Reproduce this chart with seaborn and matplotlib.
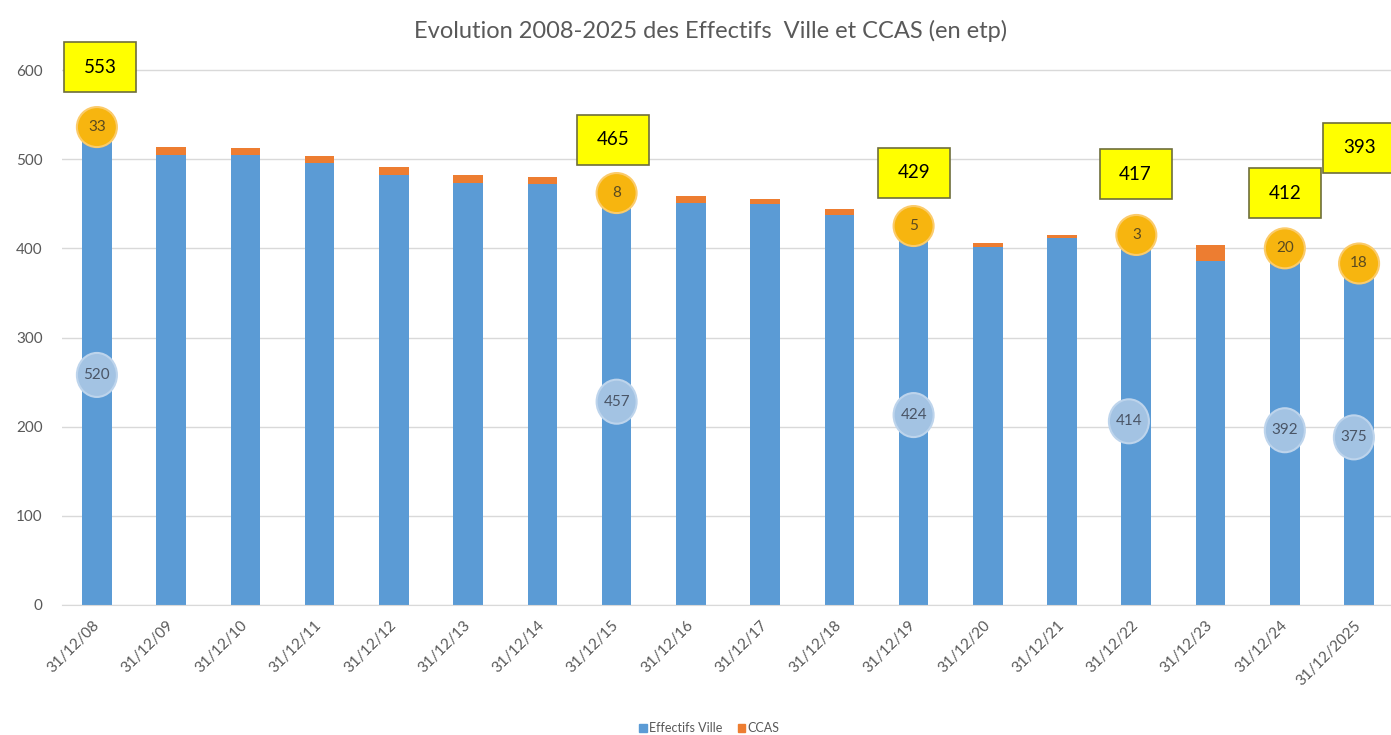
import matplotlib
matplotlib.use("Agg")
import matplotlib.pyplot as plt
from matplotlib.patches import Ellipse, Rectangle, Patch
import pandas as pd
import seaborn as sns

# data (etp)
dates = ["31/12/08", "31/12/09", "31/12/10", "31/12/11", "31/12/12", "31/12/13",
         "31/12/14", "31/12/15", "31/12/16", "31/12/17", "31/12/18", "31/12/19",
         "31/12/20", "31/12/21", "31/12/22", "31/12/23", "31/12/24", "31/12/2025"]
ville = [520, 505, 505, 496, 482, 473, 472, 457, 451, 450, 437, 424, 402, 412, 414, 386, 392, 375]
ccas = [33, 9, 7, 7, 9, 9, 8, 8, 8, 5, 7, 5, 4, 3, 3, 18, 20, 18]

# years that carry the call-out labels
labelled = ["31/12/08", "31/12/15", "31/12/19", "31/12/22", "31/12/24", "31/12/2025"]

# where the call-outs sit (y in data units): total box, ccas bubble, ville bubble
callout_y = {
    "31/12/08": (603, 536, 258),
    "31/12/15": (522, 462, 228),
    "31/12/19": (485, 425, 213),
    "31/12/22": (483, 415, 206),
    "31/12/24": (462, 400, 196),
    "31/12/2025": (513, 383, 188),
}
callout_dx = {"31/12/08": (0.04, 0, 0), "31/12/15": (-0.05, 0, 0), "31/12/19": (0, 0, 0),
              "31/12/22": (-0.01, 0, -0.1), "31/12/24": (0, 0, 0), "31/12/2025": (0, 0, -0.07)}

df = pd.DataFrame({"date": dates, "ville": ville, "ccas": ccas})
df["total"] = df["ville"] + df["ccas"]

BLUE = "#5B9BD5"
ORANGE = "#ED7D31"
GREY = "#595959"

plt.rcParams["font.family"] = ["Lato", "DejaVu Sans"]

fig = plt.figure(figsize=(13.91, 7.35), dpi=100)
ax = fig.add_axes([62 / 1391, 130 / 735, 1 - 62 / 1391, (605 - 38) / 735])

# stacked look: total in orange, ville drawn over it in blue
sns.barplot(data=df, x="date", y="total", color=ORANGE, width=0.4, saturation=1, ax=ax)
sns.barplot(data=df, x="date", y="ville", color=BLUE, width=0.4, saturation=1, ax=ax)

ax.set_xlim(-0.47, 17.43)
ax.set_ylim(0, 600 * 567 / 535)
ax.set_yticks(range(0, 601, 100))
ax.grid(axis="y", color="#D9D9D9", linewidth=1)
ax.set_axisbelow(True)
for s in ["top", "right", "left"]:
    ax.spines[s].set_visible(False)
ax.spines["bottom"].set_color("#D9D9D9")
ax.tick_params(axis="both", length=0, colors=GREY, labelsize=11)
ax.tick_params(axis="y", pad=14)
ax.set_xlabel("")
ax.set_ylabel("")
plt.setp(ax.get_xticklabels(), rotation=45, ha="right", va="center",
         rotation_mode="anchor", fontsize=11)
ax.tick_params(axis="x", pad=13)

ppx = 17.9 / 1329  # x units per pixel
ppy = ax.get_ylim()[1] / 567  # y units per pixel

for d in labelled:
    i = dates.index(d)
    row = df.iloc[i]
    yb, yo, yv = callout_y[d]
    dxb, dxo, dxv = callout_dx[d]
    # yellow total box
    w, h = 72 * ppx, 50 * ppy
    ax.add_patch(Rectangle((i + dxb - w / 2, yb - h / 2), w, h, facecolor="#FFFF00",
                           edgecolor="#6E6E3C", linewidth=1.2, zorder=5, clip_on=False))
    ax.text(i + dxb, yb, f"{row['total']}", ha="center", va="center", fontsize=13.5,
            color="black", zorder=6, clip_on=False)
    # orange ccas bubble
    ax.add_patch(Ellipse((i + dxo, yo), 40 * ppx, 40 * ppy, facecolor="#F7B50F",
                         edgecolor="#FBCB6A", linewidth=1.5, zorder=5))
    ax.text(i + dxo, yo, f"{row['ccas']}", ha="center", va="center", fontsize=11,
            color="#5A4A20", zorder=6)
    # light blue ville bubble
    ax.add_patch(Ellipse((i + dxv, yv), 40 * ppx, 44 * ppy, facecolor="#A3C3E3",
                         edgecolor="#BDD4EC", linewidth=1.5, zorder=5))
    ax.text(i + dxv, yv, f"{row['ville']}", ha="center", va="center", fontsize=11,
            color="#4A5566", zorder=6)

fig.text(0.511, 0.958, "Evolution 2008-2025 des Effectifs  Ville et CCAS (en etp)",
         ha="center", va="center", fontsize=17, color=GREY)

handles = [Patch(color=BLUE, label="Effectifs Ville"), Patch(color=ORANGE, label="CCAS")]
fig.legend(handles=handles, loc="center", bbox_to_anchor=(0.51, 0.009), ncol=2,
           frameon=False, fontsize=9, labelcolor=GREY, handlelength=0.6, handleheight=0.6,
           handletextpad=0.2, columnspacing=1.2)

fig.savefig("out.png", dpi=100)
